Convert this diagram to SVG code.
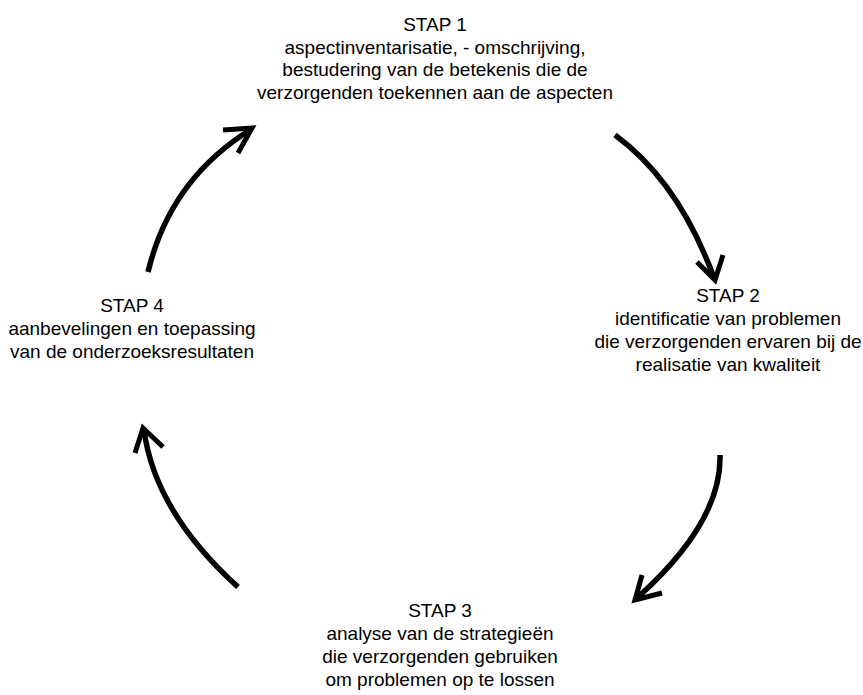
<svg xmlns="http://www.w3.org/2000/svg" width="863" height="695" viewBox="0 0 863 695">
<style>
text{font-family:"Liberation Sans",Arial,sans-serif;font-size:19px;fill:#000;text-anchor:middle}
.arc{fill:none;stroke:#000;stroke-width:5.5;stroke-linecap:butt}
.head{fill:none;stroke:#000;stroke-width:5;stroke-linecap:butt;stroke-linejoin:miter}
</style>
<rect width="863" height="695" fill="#fff"/>
<g id="stap1">
<text x="435" y="31">STAP 1</text>
<text x="435" y="54">aspectinventarisatie, - omschrijving,</text>
<text x="435" y="76">bestudering van de betekenis die de</text>
<text x="435" y="99">verzorgenden toekennen aan de aspecten</text>
</g>
<g id="stap2">
<text x="728" y="302">STAP 2</text>
<text x="728" y="325">identificatie van problemen</text>
<text x="728" y="348">die verzorgenden ervaren bij de</text>
<text x="728" y="371">realisatie van kwaliteit</text>
</g>
<g id="stap3">
<text x="440" y="617">STAP 3</text>
<text x="440" y="640">analyse van de strategieën</text>
<text x="440" y="663">die verzorgenden gebruiken</text>
<text x="440" y="686">om problemen op te lossen</text>
</g>
<g id="stap4">
<text x="132" y="312">STAP 4</text>
<text x="132" y="335">aanbevelingen en toepassing</text>
<text x="132" y="358">van de onderzoeksresultaten</text>
</g>
<g id="connectors">
<path class="arc" d="M148,272 Q170,180 250,130"/>
<polyline class="head" points="223,130 252,128 238,153"/>
<path class="arc" d="M615,135 Q679,182 714,278"/>
<polyline class="head" points="697,262 715,280 723,255"/>
<path class="arc" d="M720,455 Q722,522 637,598"/>
<polyline class="head" points="642,575 635,600 662,593"/>
<path class="arc" d="M238,587 Q155,512 144,430"/>
<polyline class="head" points="135,453 143,428 163,447"/>
</g>
</svg>
